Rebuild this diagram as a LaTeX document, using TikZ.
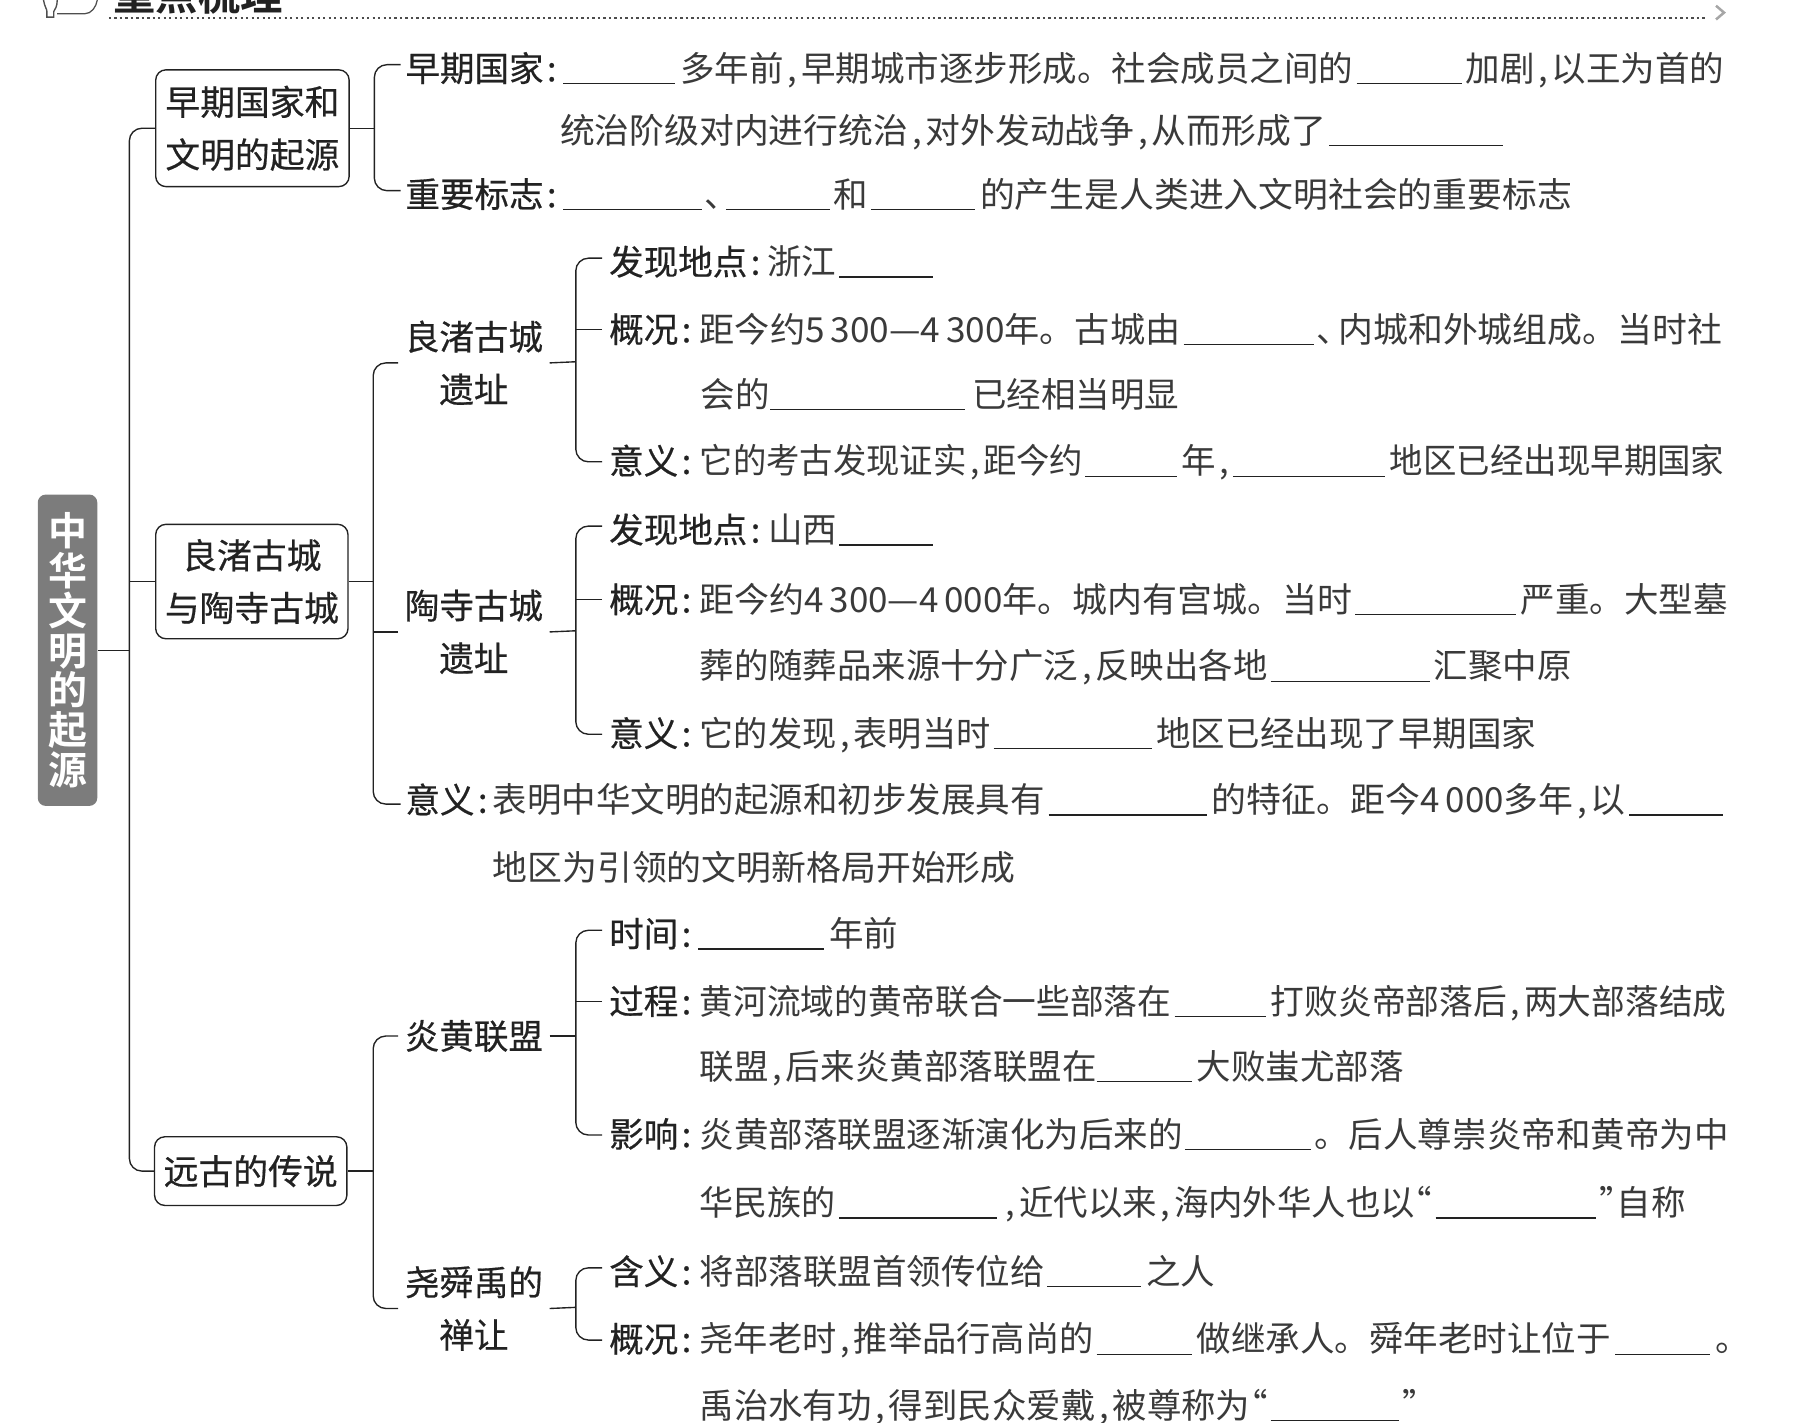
\documentclass[tikz,border=0pt]{standalone}
\usepackage{graphicx}
\usepackage{fontspec}
\setmainfont{Noto Sans CJK SC}
\newfontfamily\labf[FakeBold=0.5]{Noto Sans CJK SC}
\newfontfamily\boldf{Noto Sans CJK SC Bold}
\definecolor{ink}{HTML}{222222}
\definecolor{bodyink}{HTML}{3A3A3A}
\definecolor{rootfill}{HTML}{7C7C7C}
\newcounter{tn}
\newcommand\cm{\makebox[.5em]{,}}
\newcommand\oq{\makebox[.5em][r]{“}}
\newcommand\cq{\makebox[.5em][l]{”}}
\newcommand\cl{\kern3pt:}
\newcommand\tx[3]{\stepcounter{tn}\node[bodytext] (t\arabic{tn}) at (#1,#2+11) {#3};}
\newcommand\txw[4]{\stepcounter{tn}\node[bodytext] (t\arabic{tn}) at (#1,#2+11) {\resizebox{\dimexpr #3pt-#1pt\relax}{\height}{#4}};}
\newcommand\lb[4]{\node[labtext] (#1) at (#2,#3+11) {#4};}
\newcommand\bl[3]{\draw[blankline] (#1,#3+13) -- (#2,#3+13);}
\tikzset{
  bodytext/.style={anchor=base west,inner sep=0pt,text=bodyink,font=\fontsize{30.15}{36}\selectfont},
  labtext/.style={anchor=base west,inner sep=0pt,text=ink,font=\labf\fontsize{30.15}{36}\selectfont},
  catbox/.style={draw=ink,line width=1.2pt,rounded corners=9pt,align=center,inner sep=0pt,text=ink,font=\labf\fontsize{30.4}{46}\selectfont},
  midlabel/.style={align=center,inner sep=0pt,minimum width=132pt,text=ink,font=\labf\fontsize{30.15}{46}\selectfont},
  conn/.style={draw=ink,line width=1.2pt,rounded corners=11pt},
  blankline/.style={draw=ink,line width=1.1pt},
}
\begin{document}
\begin{tikzpicture}[x=1pt,y=-1pt]
\useasboundingbox (0,0) rectangle (1568,1243);
% header
\begin{scope}
\clip (0,0) rectangle (1568,1243);
\node[anchor=base west,inner sep=0pt,text=ink,font=\boldf\fontsize{37}{37}\selectfont] (hdr) at (99,9) {重点梳理};
\draw[ink!80,line width=1.2pt] (38,0) .. controls (39,6) and (41,8) .. (41,10) -- (41,15) -- (47,15) -- (47,10) .. controls (48,8) and (50,6) .. (50,0);
\draw[ink!80,line width=1.1pt] (50,12) -- (74,12) .. controls (80,12) and (84,6) .. (85,0);
\end{scope}
\draw[gray!60!black,line width=1.6pt,dash pattern=on 2pt off 2.8pt] (95,15.5) -- (1491,15.5);
\draw[gray!70,line width=2.2pt] (1499,5) -- (1506,11) -- (1499,17);
% root and boxes
\node[fill=rootfill,rounded corners=7pt,minimum width=52pt,minimum height=272pt,inner sep=0pt] (root) at (59,568) {};
\node[align=center,inner sep=0pt,text=white,font=\boldf\fontsize{34}{34.7}\selectfont] (roottext) at (59,568) {中\\华\\文\\明\\的\\起\\源};
\node[catbox,minimum width=169pt,minimum height=102pt] (box1) at (220.5,112) {早期国家和\\文明的起源};
\node[catbox,minimum width=168pt,minimum height=100pt] (box2) at (220,508) {良渚古城\\与陶寺古城};
\node[catbox,minimum width=168pt,minimum height=60pt] (box3) at (219,1023) {远古的传说};
\node[midlabel] (lz) at (414,317) {良渚古城\\遗址};
\node[midlabel] (ts) at (414,552) {陶寺古城\\遗址};
\node[midlabel] (yh) at (414,905) {炎黄联盟};
\node[midlabel] (ysy) at (414,1143) {尧舜禹的\\禅让};
% labels
\lb{a1}{354}{60}{早期国家\cl}
\lb{a2}{354}{170}{重要标志\cl}
\lb{b1}{532}{229}{发现地点\cl}
\lb{b2}{532}{288}{概况\cl}
\lb{b3}{532}{403}{意义\cl}
\lb{c1}{532}{463}{发现地点\cl}
\lb{c2}{532}{524}{概况\cl}
\lb{c3}{532}{641}{意义\cl}
\lb{d}{354}{699}{意义\cl}
\lb{e1}{532}{816}{时间\cl}
\lb{e2}{532}{875}{过程\cl}
\lb{e3}{532}{991}{影响\cl}
\lb{f1}{532}{1111}{含义\cl}
\lb{f2}{532}{1170}{概况\cl}
% body text
\tx{594}{60}{多年前\cm 早期城市逐步形成。社会成员之间的}
\bl{492}{590}{60}\bl{1185}{1277}{60}
\tx{1280}{60}{加剧\cm 以王为首的}
\txw{489}{114}{1158}{统治阶级对内进行统治\cm 对外发动战争\cm 从而形成了}
\bl{1161}{1313}{114}
\bl{492}{613}{170}\tx{615}{170}{、}\bl{634}{725}{170}\tx{728}{170}{和}\bl{761}{852}{170}
\txw{856}{170}{1373}{的产生是人类进入文明社会的重要标志}
\tx{670}{229}{浙江}\bl{733}{815}{229}
\txw{611}{288}{1031}{距今约5\,300—4\,300年。古城由}\bl{1034}{1148}{288}
\tx{1150}{288}{、}\txw{1169}{288}{1504}{内城和外城组成。当时社}
\tx{612}{345}{会的}\bl{673}{843}{345}\tx{849}{345}{已经相当明显}
\txw{611}{403}{946}{它的考古发现证实\cm 距今约}\bl{948}{1028}{403}\tx{1032}{403}{年\cm}
\bl{1077}{1210}{403}\txw{1214}{403}{1506}{地区已经出现早期国家}
\tx{671}{463}{山西}\bl{733}{815}{463}
\txw{611}{524}{1181}{距今约4\,300—4\,000年。城内有宫城。当时}\bl{1184}{1324}{524}\tx{1328}{524}{严重。大型墓}
\txw{611}{582}{1107}{葬的随葬品来源十分广泛\cm 反映出各地}\bl{1110}{1249}{582}\tx{1252}{582}{汇聚中原}
\txw{611}{641}{865}{它的发现\cm 表明当时}\bl{868}{1006}{641}\tx{1010}{641}{地区已经出现了早期国家}
\tx{430}{699}{表明中华文明的起源和初步发展具有}\bl{916}{1054}{699}
\txw{1058}{699}{1420}{的特征。距今4\,000多年\cm 以}\bl{1423}{1505}{699}
\txw{430}{758}{887}{地区为引领的文明新格局开始形成}
\bl{610}{720}{816}\tx{724}{816}{年前}
\txw{611}{875}{1023}{黄河流域的黄帝联合一些部落在}\bl{1026}{1106}{875}\txw{1110}{875}{1508}{打败炎帝部落后\cm 两大部落结成}
\tx{611}{932}{联盟\cm 后来炎黄部落联盟在}\bl{958}{1041}{932}\tx{1045}{932}{大败蚩尤部落}
\tx{611}{991}{炎黄部落联盟逐渐演化为后来的}\bl{1035}{1145}{991}\tx{1148}{991}{。后人尊崇炎帝和黄帝为中}
\txw{611}{1051}{730}{华民族的}\bl{733}{871}{1051}\txw{875}{1051}{1251}{\cm 近代以来\cm 海内外华人也以\oq}
\bl{1254}{1394}{1051}\tx{1397}{1051}{\cq 自称}
\tx{611}{1111}{将部落联盟首领传位给}\bl{915}{997}{1111}\tx{1001}{1111}{之人}
\txw{611}{1170}{955}{尧年老时\cm 推举品行高尚的}\bl{958}{1041}{1170}\tx{1045}{1170}{做继承人。舜年老时让位于}
\bl{1411}{1494}{1170}\tx{1498}{1170}{。}
\txw{611}{1228}{1107}{禹治水有功\cm 得到民众爱戴\cm 被尊称为\oq}\bl{1110}{1222}{1228}\tx{1225}{1228}{\cq}
% connectors
\coordinate (tr0) at (113,112);
\coordinate (tr1) at (327,112);
\coordinate (tr2) at (326,508);
\coordinate (tr3) at (326,1023);
\draw[conn] (root.east) -- (root.east -| tr0);
\draw[conn] (box1.west) -- (tr0) |- (box3.west);
\draw[conn] (box2.west) -- (box2.west -| tr0);
\draw[conn] (box1.east) -- (tr1);
\draw[conn] ([shift={(-4,-3)}]a1.west) -| (tr1) |- ([shift={(-4,-3)}]a2.west);
\draw[conn] (box2.east) -- (tr2);
\draw[conn] (lz.west) -| (tr2) |- ([shift={(-4,4)}]d.west);
\draw[conn] (ts.west) -- (ts.west -| tr2);
\draw[conn] (box3.east) -- (tr3);
\draw[conn] (yh.west) -| (tr3) |- (ysy.west);
\coordinate (s1) at (503,316);
\coordinate (s2) at (503,551);
\coordinate (s3) at (503,905);
\coordinate (s4) at (503,1142);
\draw[conn] (lz.east) -- (s1);
\draw[conn] ([shift={(-6,-3)}]b1.west) -| (s1) |- ([shift={(-6,1)}]b3.west);
\draw[conn] ([xshift=-6pt]b2.west) -- (b2.west -| s1);
\draw[conn] (ts.east) -- (s2);
\draw[conn] ([shift={(-6,-3)}]c1.west) -| (s2) |- ([shift={(-6,1)}]c3.west);
\draw[conn] ([xshift=-6pt]c2.west) -- (c2.west -| s2);
\draw[conn] (yh.east) -- (s3);
\draw[conn] ([shift={(-6,-3)}]e1.west) -| (s3) |- ([shift={(-6,1)}]e3.west);
\draw[conn] ([xshift=-6pt]e2.west) -- (e2.west -| s3);
\draw[conn] (ysy.east) -- (s4);
\draw[conn] ([shift={(-6,-3)}]f1.west) -| (s4) |- ([shift={(-6,1)}]f2.west);
\end{tikzpicture}
\end{document}
